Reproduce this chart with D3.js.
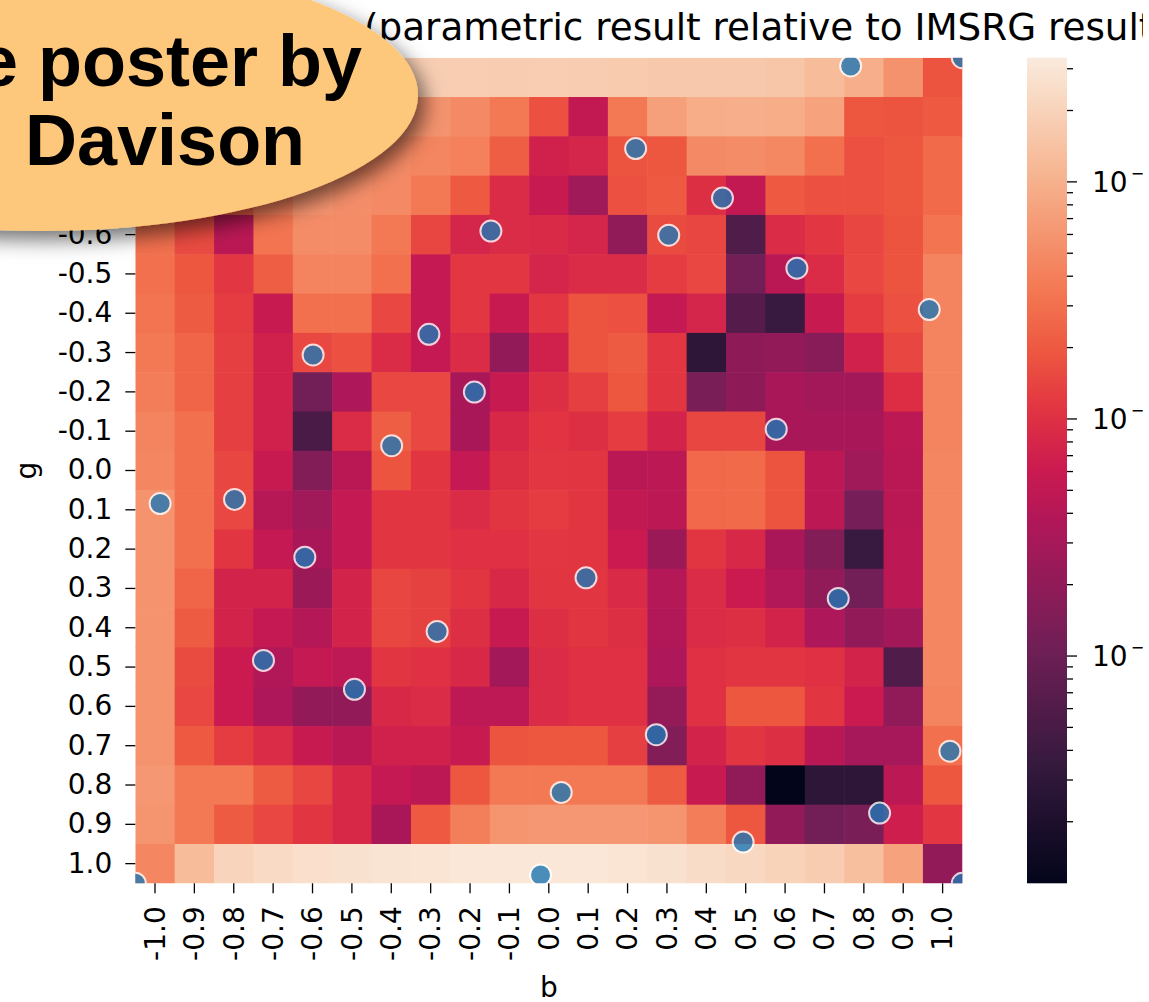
<!DOCTYPE html>
<html>
<head>
<meta charset="utf-8">
<script src="https://cdn.jsdelivr.net/npm/d3@7"></script>
<style>
  body { margin: 0; background: #fff; }
  svg { display: block; }
</style>
</head>
<body>
<svg id="chart" width="1149" height="1002"></svg>
<script>
// tick labels for both parameters
const bLabels = ["-1.0","-0.9","-0.8","-0.7","-0.6","-0.5","-0.4","-0.3","-0.2","-0.1","0.0",
                 "0.1","0.2","0.3","0.4","0.5","0.6","0.7","0.8","0.9","1.0"]
const gLabels = bLabels.slice()

// relative error, rows g = -1.0 .. 1.0, columns b = -1.0 .. 1.0
const relErr = [
  [0.049, 0.127, 0.180, 0.178, 0.182, 0.179, 0.176, 0.181, 0.177, 0.175, 0.178, 0.174, 0.171, 0.162, 0.162, 0.160, 0.150, 0.127, 0.096, 0.057, 0.0186],
  [0.0354, 0.0354, 0.0415, 0.0528, 0.0572, 0.0572, 0.0572, 0.0572, 0.0487, 0.0354, 0.0172, 0.0052, 0.0354, 0.073, 0.0925, 0.096, 0.0925, 0.0757, 0.0194, 0.0186, 0.0202],
  [0.0354, 0.0301, 0.0301, 0.0415, 0.0487, 0.0487, 0.0487, 0.045, 0.0415, 0.0219, 0.0071, 0.0077, 0.0186, 0.0194, 0.0487, 0.0507, 0.0468, 0.0301, 0.0172, 0.0194, 0.0278],
  [0.0354, 0.0257, 0.0219, 0.0415, 0.0572, 0.0528, 0.0487, 0.0354, 0.0202, 0.0091, 0.0056, 0.0027, 0.0172, 0.0202, 0.0098, 0.0052, 0.0202, 0.0172, 0.0172, 0.0194, 0.0278],
  [0.0301, 0.0159, 0.0044, 0.0327, 0.0507, 0.0507, 0.0354, 0.0147, 0.0077, 0.0091, 0.0087, 0.0077, 0.0020, 0.0159, 0.0147, 0.00059, 0.0091, 0.0115, 0.0147, 0.0186, 0.0327],
  [0.0301, 0.0194, 0.0115, 0.0219, 0.0433, 0.0433, 0.0301, 0.0054, 0.0115, 0.0115, 0.0077, 0.0091, 0.0091, 0.0125, 0.0152, 0.00113, 0.0044, 0.0091, 0.0152, 0.0186, 0.0433],
  [0.0327, 0.021, 0.0125, 0.0056, 0.0301, 0.0301, 0.0152, 0.0054, 0.0115, 0.0056, 0.0115, 0.0186, 0.0172, 0.0054, 0.0077, 0.00064, 0.00037, 0.0056, 0.0125, 0.0172, 0.0433],
  [0.0354, 0.0247, 0.013, 0.0071, 0.0152, 0.0172, 0.0091, 0.0054, 0.0091, 0.0021, 0.0071, 0.0186, 0.021, 0.0115, 0.00029, 0.0019, 0.0021, 0.0017, 0.0071, 0.0147, 0.0433],
  [0.0383, 0.0247, 0.013, 0.0071, 0.00113, 0.0035, 0.0152, 0.0152, 0.0032, 0.0056, 0.0098, 0.013, 0.0194, 0.0111, 0.00132, 0.0019, 0.0032, 0.0028, 0.0028, 0.0094, 0.0433],
  [0.0433, 0.0301, 0.013, 0.0071, 0.00051, 0.0091, 0.0219, 0.0152, 0.0032, 0.0084, 0.0106, 0.0098, 0.0125, 0.0074, 0.0147, 0.0147, 0.0032, 0.0031, 0.0031, 0.0046, 0.0433],
  [0.045, 0.0301, 0.0147, 0.0056, 0.00155, 0.0044, 0.0186, 0.0111, 0.0054, 0.0098, 0.0115, 0.0111, 0.0044, 0.0046, 0.0267, 0.0278, 0.0186, 0.0046, 0.0027, 0.0044, 0.045],
  [0.0572, 0.0301, 0.0152, 0.0041, 0.0027, 0.0054, 0.0111, 0.0111, 0.0091, 0.0111, 0.0125, 0.0111, 0.0052, 0.0046, 0.0267, 0.0278, 0.0186, 0.0046, 0.0012, 0.0044, 0.045],
  [0.0572, 0.0301, 0.0111, 0.0054, 0.0032, 0.0054, 0.0111, 0.0111, 0.0102, 0.0102, 0.0115, 0.0111, 0.0061, 0.0025, 0.0111, 0.0084, 0.0032, 0.00155, 0.00037, 0.0046, 0.045],
  [0.0572, 0.0247, 0.0074, 0.0074, 0.0025, 0.0074, 0.0147, 0.0135, 0.0111, 0.0084, 0.0111, 0.0111, 0.0087, 0.0039, 0.0091, 0.0061, 0.0038, 0.002, 0.00113, 0.0046, 0.045],
  [0.0572, 0.021, 0.0074, 0.0054, 0.0039, 0.0074, 0.0147, 0.0135, 0.0098, 0.0056, 0.0098, 0.0111, 0.0098, 0.0038, 0.0091, 0.0098, 0.0074, 0.0035, 0.0021, 0.0028, 0.045],
  [0.0572, 0.0159, 0.0061, 0.0038, 0.0054, 0.0048, 0.0111, 0.0102, 0.0084, 0.0028, 0.0091, 0.0102, 0.0102, 0.0035, 0.0102, 0.0111, 0.0111, 0.0102, 0.0074, 0.00059, 0.045],
  [0.0572, 0.0152, 0.0061, 0.0035, 0.0021, 0.0021, 0.0084, 0.0091, 0.0048, 0.0048, 0.0091, 0.0102, 0.0102, 0.0022, 0.0102, 0.0194, 0.0194, 0.0111, 0.0061, 0.002, 0.0433],
  [0.0572, 0.0202, 0.0125, 0.0091, 0.0056, 0.0044, 0.0071, 0.0071, 0.0056, 0.0186, 0.0194, 0.0194, 0.013, 0.00155, 0.0074, 0.0111, 0.0098, 0.0044, 0.003, 0.003, 0.0301],
  [0.062, 0.0354, 0.0354, 0.021, 0.0147, 0.0084, 0.0054, 0.0046, 0.0194, 0.0354, 0.0354, 0.0354, 0.0354, 0.021, 0.0056, 0.002, 0.00011, 0.00029, 0.00029, 0.0046, 0.0194],
  [0.0596, 0.0354, 0.021, 0.0152, 0.0111, 0.0084, 0.0032, 0.0202, 0.0399, 0.0596, 0.062, 0.062, 0.062, 0.0596, 0.0383, 0.0194, 0.0021, 0.00113, 0.00132, 0.0066, 0.0115],
  [0.045, 0.127, 0.206, 0.232, 0.262, 0.273, 0.284, 0.296, 0.308, 0.308, 0.308, 0.308, 0.296, 0.273, 0.242, 0.223, 0.198, 0.176, 0.133, 0.0757, 0.0021]
]

// sampled parameter points (b, g)
const sampleB = [0.73, 1.0, 0.21, 0.42, -0.14, 0.29, 0.60, 0.92, -0.29, -0.57, -0.18, 0.55, -0.38, -0.94, -0.76,
                 -0.59, 0.09, 0.70, -0.27, -0.69, -0.47, 0.26, 0.97, 0.03, 0.80, 0.47, -0.02, -1.0, 1.0]
const sampleG = [-0.98, -1.0, -0.78, -0.66, -0.58, -0.57, -0.49, -0.39, -0.33, -0.28, -0.19, -0.10, -0.06, 0.08, 0.07,
                 0.21, 0.26, 0.31, 0.39, 0.46, 0.53, 0.64, 0.68, 0.78, 0.83, 0.90, 0.98, 1.0, 1.0]

// colour bar range and labelled decades
const errRange = [1.1e-4, 0.334]
const decadeExp = [-1, -2, -3]

const titleText = "(parametric result relative to IMSRG result)"
const noteLines = ["e poster by", "Davison"]

// rocket colormap (seaborn)
const rocketStops = [0, 0.143, 0.286, 0.429, 0.5, 0.571, 0.643, 0.714, 0.857, 1]
const rocketColors = ["#03051a", "#35193e", "#701f57", "#ad1759", "#ca1a50", "#e13342",
                      "#ed5640", "#f37651", "#f6b48f", "#faebdd"]

const plot = {left: 135.3, right: 962.3, top: 57.7, bottom: 883.3}
const cbar = {x: 1027, w: 40}
const font = "DejaVu Sans, sans-serif"

const svg = d3.select("#chart")
svg.append("rect").attr("width", 1149).attr("height", 1002).attr("fill", "#fff")

const defs = svg.append("defs")
defs.append("clipPath").attr("id", "plotClip")
  .append("rect")
  .attr("x", plot.left).attr("y", plot.top)
  .attr("width", plot.right - plot.left).attr("height", plot.bottom - plot.top)
// the figure was cropped a few pixels before the right edge
defs.append("clipPath").attr("id", "cropClip")
  .append("rect")
  .attr("x", 0).attr("y", 0).attr("width", 1143).attr("height", 1002)

const x = d3.scaleBand().domain(bLabels).range([plot.left, plot.right])
const y = d3.scaleBand().domain(gLabels).range([plot.top, plot.bottom])
const xs = d3.scaleLinear().domain([-1, 1]).range([plot.left, plot.right])
const ys = d3.scaleLinear().domain([-1, 1]).range([plot.top, plot.bottom])

const norm = d3.scaleLog().domain(errRange).range([0, 1]).clamp(true)
const rocket = d3.scaleLinear().domain(rocketStops).range(rocketColors).interpolate(d3.interpolateRgb)
const color = v => rocket(norm(v))

// heatmap
const cells = relErr.flatMap((row, i) => row.map((v, j) => ({b: bLabels[j], g: gLabels[i], v})))
const plotG = svg.append("g").attr("clip-path", "url(#plotClip)")
plotG.append("g")
  .selectAll("rect")
  .data(cells)
  .join("rect")
  .attr("x", d => x(d.b))
  .attr("y", d => y(d.g))
  .attr("width", x.bandwidth() + 0.6)
  .attr("height", y.bandwidth() + 0.6)
  .attr("fill", d => color(d.v))

// sample points
plotG.append("g")
  .selectAll("circle")
  .data(d3.zip(sampleB, sampleG))
  .join("circle")
  .attr("cx", d => xs(d[0]))
  .attr("cy", d => ys(d[1]))
  .attr("r", 10.5)
  .attr("fill", "#1f77b4")
  .attr("stroke", "#fff")
  .attr("stroke-width", 2)
  .attr("opacity", 0.8)

// axes
const xAxis = svg.append("g")
  .attr("transform", `translate(0,${plot.bottom})`)
  .call(d3.axisBottom(x).tickSize(10).tickSizeOuter(0))
xAxis.select(".domain").remove()
xAxis.attr("font-size", 28).attr("font-family", font)
xAxis.selectAll(".tick line").attr("stroke-width", 1.3)
xAxis.selectAll(".tick text")
  .attr("transform", "rotate(-90)")
  .attr("x", -23).attr("y", 0).attr("dy", "0.35em")
  .attr("text-anchor", "end")

const yAxis = svg.append("g")
  .attr("transform", `translate(${plot.left},0)`)
  .call(d3.axisLeft(y).tickSize(10).tickPadding(13).tickSizeOuter(0))
yAxis.select(".domain").remove()
yAxis.attr("font-size", 28).attr("font-family", font)
yAxis.selectAll(".tick line").attr("stroke-width", 1.3)

svg.append("text")
  .attr("transform", `translate(35.5,${(plot.top + plot.bottom) / 2}) rotate(-90)`)
  .attr("text-anchor", "middle")
  .attr("font-family", font).attr("font-size", 28)
  .text("g")
svg.append("text")
  .attr("x", (plot.left + plot.right) / 2).attr("y", 997)
  .attr("text-anchor", "middle")
  .attr("font-family", font).attr("font-size", 28)
  .text("b")

// colour bar
const cy = d3.scaleLog().domain(errRange).range([plot.bottom, plot.top])
const grad = defs.append("linearGradient").attr("id", "cbarGrad")
  .attr("x1", 0).attr("y1", 1).attr("x2", 0).attr("y2", 0)
grad.selectAll("stop")
  .data(d3.range(0, 1.0001, 0.02))
  .join("stop")
  .attr("offset", d => d)
  .attr("stop-color", d => rocket(d))
svg.append("rect")
  .attr("x", cbar.x).attr("y", plot.top)
  .attr("width", cbar.w).attr("height", plot.bottom - plot.top)
  .attr("fill", "url(#cbarGrad)")

const isDecade = t => Math.abs(Math.log10(t) - Math.round(Math.log10(t))) < 1e-6
const cbarG = svg.append("g").attr("transform", `translate(${cbar.x + cbar.w},0)`)
cbarG.selectAll("line")
  .data(cy.ticks())
  .join("line")
  .attr("x1", 0).attr("x2", t => isDecade(t) ? 10 : 6)
  .attr("y1", t => cy(t)).attr("y2", t => cy(t))
  .attr("stroke", "#000").attr("stroke-width", 1.3)

const cropped = svg.append("g").attr("clip-path", "url(#cropClip)")
const cbarLabels = cropped.append("g")
  .selectAll("text")
  .data(decadeExp)
  .join("text")
  .attr("x", cbar.x + cbar.w + 25)
  .attr("y", e => cy(Math.pow(10, e)) + 10)
  .attr("font-family", font).attr("font-size", 28)
cbarLabels.append("tspan").text("10")
cbarLabels.append("tspan")
  .attr("font-size", 16).attr("dy", -13).attr("dx", 3)
  .text(e => "\u2212" + Math.abs(e))

// title
cropped.append("text")
  .attr("x", 364).attr("y", 40)
  .attr("font-family", font).attr("font-size", 37.3)
  .text(titleText)

// callout bubble on top
const shadow = defs.append("filter").attr("id", "shadow")
  .attr("x", "-20%").attr("y", "-20%").attr("width", "150%").attr("height", "150%")
shadow.append("feDropShadow")
  .attr("dx", 7).attr("dy", 9).attr("stdDeviation", 10)
  .attr("flood-color", "#000").attr("flood-opacity", 0.55)

const note = svg.append("g")
note.append("ellipse")
  .attr("cx", 40).attr("cy", 95).attr("rx", 378).attr("ry", 136)
  .attr("fill", "#fec87b")
  .attr("filter", "url(#shadow)")
note.append("text")
  .attr("x", 362).attr("y", 86)
  .attr("text-anchor", "end")
  .attr("font-family", "Liberation Sans, Arial, sans-serif")
  .attr("font-weight", "bold").attr("font-size", 72)
  .text(noteLines[0])
note.append("text")
  .attr("x", 25).attr("y", 165)
  .attr("font-family", "Liberation Sans, Arial, sans-serif")
  .attr("font-weight", "bold").attr("font-size", 72)
  .text(noteLines[1])
</script>
</body>
</html>
